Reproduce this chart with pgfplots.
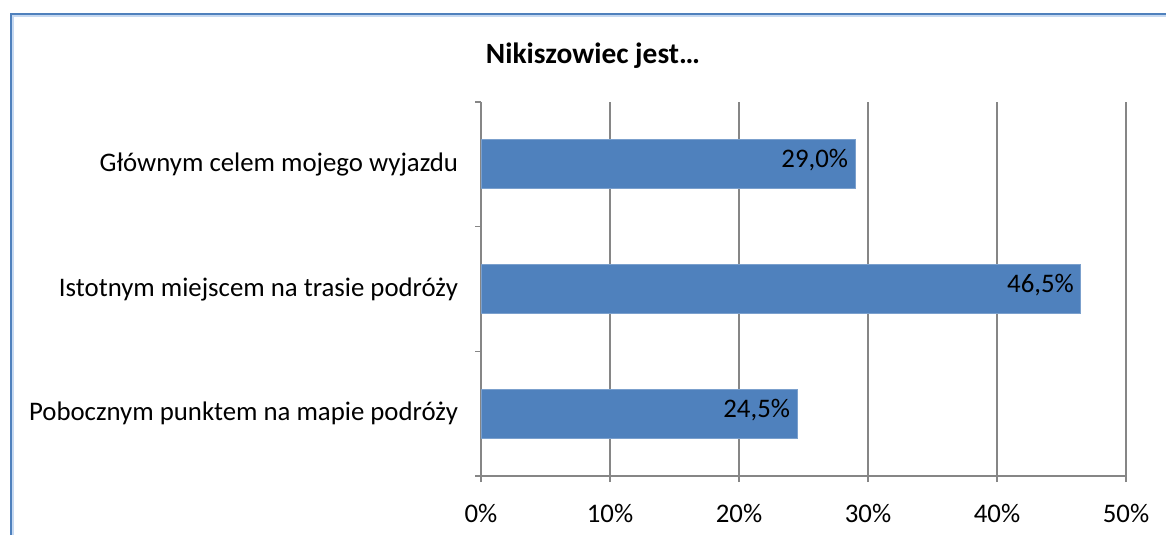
\documentclass[border=0pt]{standalone}
\usepackage{pgfplots}
\pgfplotsset{compat=1.18}
\usepackage{fontspec}
\setmainfont{Carlito}
\definecolor{barblue}{RGB}{79,129,189}
\definecolor{gridgray}{RGB}{134,134,134}
\definecolor{framelight}{RGB}{198,217,241}

\begin{document}
\begin{tikzpicture}
\path[use as bounding box] (0,0) rectangle (583pt,267.5pt);
% chart frame (only left and top edges are visible in the crop)
\draw[framelight, line width=1.2pt] (6.4pt,0) -- (6.4pt,259.4pt) -- (583pt,259.4pt);
\draw[barblue, line width=1pt] (5.3pt,0) -- (5.3pt,260.5pt) -- (583pt,260.5pt);
\node[font=\bfseries\fontsize{14.7}{17}\selectfont] at (296.5pt,239.5pt) {Nikiszowiec jest…};
\begin{axis}[
  at={(240.5pt,29.5pt)}, anchor=south west,
  scale only axis, width=322.5pt, height=187pt,
  xbar, bar width=0.393,
  xmin=0, xmax=50, ymin=-0.5, ymax=2.5,
  axis x line*=bottom, axis y line*=left,
  axis line style={-, draw=gridgray, line width=0.75pt},
  tick align=outside, major tick length=3pt,
  tick style={draw=gridgray, line width=0.75pt},
  xtick={0,10,...,50},
  xticklabel={\pgfmathprintnumber[assume math mode=true]{\tick}\%},
  xmajorgrids, major grid style={draw=gridgray, line width=0.75pt},
  ytick={-0.5,0.5,1.5,2.5}, yticklabels={},
  extra y ticks={0,1,2},
  extra y tick labels={Pobocznym punktem na mapie podróży,Istotnym miejscem na trasie podróży,Głównym celem mojego wyjazdu},
  extra y tick style={major tick length=0pt, grid=none},
  tick label style={font=\fontsize{13.4}{16}\selectfont, text=black},
  yticklabel style={xshift=-8pt},
  xticklabel style={yshift=-7.5pt},
  point meta=x,
  nodes near coords={\pgfmathprintnumber[fixed,fixed zerofill,precision=1,use comma,assume math mode=true]{\pgfplotspointmeta}\%},
  nodes near coords style={anchor=east, font=\fontsize{13.4}{16}\selectfont, text=black, yshift=2pt},
]
\addplot[fill=barblue, draw=barblue!75!white, line width=0.4pt] coordinates {(24.5,0) (46.5,1) (29.0,2)};
\end{axis}
\end{tikzpicture}
\end{document}
